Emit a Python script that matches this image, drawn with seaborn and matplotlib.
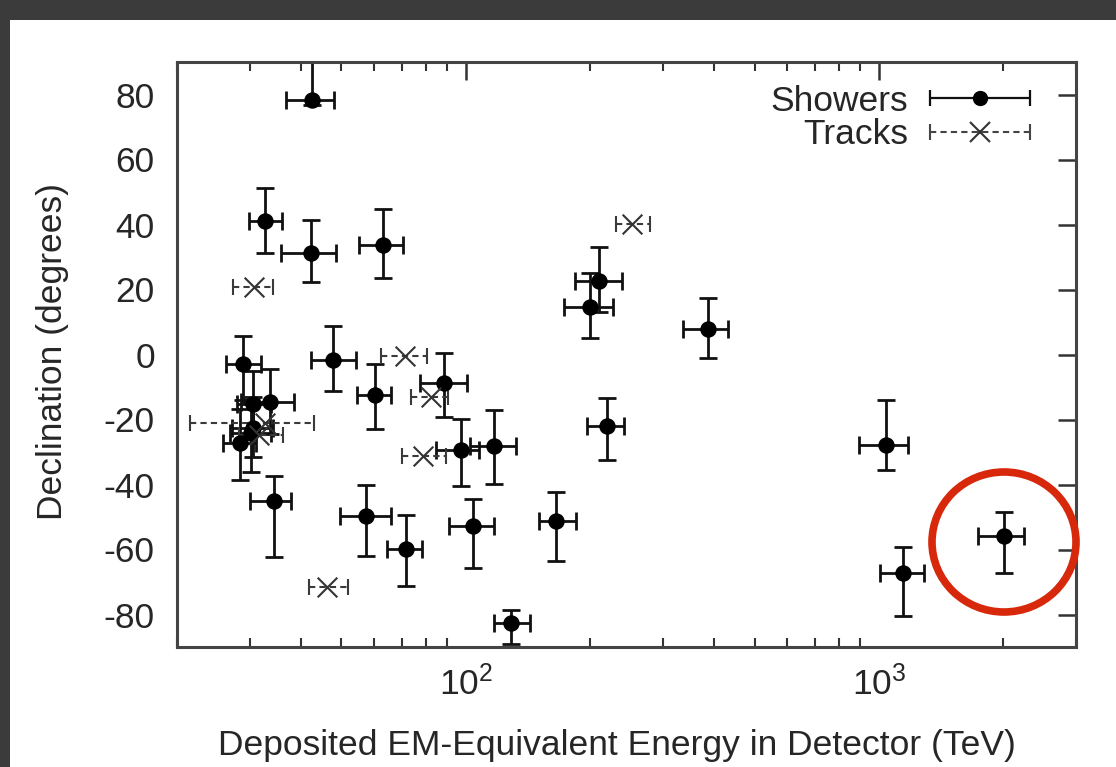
import numpy as np
import pandas as pd
import matplotlib
matplotlib.use("Agg")
import matplotlib.pyplot as plt
import seaborn as sns
from matplotlib.patches import Rectangle, Ellipse
from matplotlib.container import ErrorbarContainer
from matplotlib.legend_handler import HandlerErrorbar

# ---------------- data ----------------
shower_E     = [47.6, 117, 165, 28.4, 34.3, 63.2, 97.2, 88.4, 104, 1041, 57.5, 30.6, 200, 71.5,
                1141, 30.2, 220, 30.5, 33.5, 210, 60.2, 32.7, 129, 42.5, 385, 42.1, 2004, 28.9]
shower_E_lo  = [5.4, 14.6, 15, 2.5, 4.3, 8.0, 12.4, 10.7, 13, 144, 7.8, 3.5, 27, 7.2,
                133, 3.3, 24, 2.6, 5.0, 26, 5.6, 2.9, 12, 5.7, 49, 6.3, 262, 2.6]
shower_E_hi  = [6.5, 15, 20, 2.7, 3.5, 7.1, 10.4, 12.5, 13, 132, 8.3, 3.6, 27, 7.0,
                143, 3.5, 21, 3.2, 4.9, 29, 5.6, 3.2, 14, 5.4, 46, 6.5, 236, 3.0]
shower_dec   = [-1.8, -28.0, -51.2, -27.2, -45.1, 33.6, -29.4, -8.9, -52.8, -27.9, -49.7, -22.6, 14.5, -59.7,
                -67.2, -24.0, -22.1, -15.1, -14.5, 22.7, -12.6, 41.0, -82.7, 78.3, 7.8, 31.3, -55.8, -3.0]
shower_dec_lo = [9.3, 11.9, 12.3, 11.4, 17.3, 10.2, 11.0, 10.4, 12.8, 7.5, 12.4, 9.0, 9.5, 11.6,
                 13.3, 12.2, 10.5, 9.5, 10.0, 9.5, 10.3, 9.8, 6.4, 1.5, 8.9, 8.9, 11.3, 11.0]
shower_dec_hi = [10.7, 11.0, 9.0, 10.5, 7.7, 11.3, 9.7, 9.4, 8.2, 13.8, 9.5, 9.5, 10.5, 10.3,
                 8.0, 10.0, 8.8, 10.0, 10.0, 10.5, 9.8, 10.3, 4.1, 14.0, 9.5, 10.0, 7.2, 8.8]

track_E    = [78.7, 71.4, 32.6, 253, 31.5, 82.2, 46.1, 30.8]
track_E_lo = [8.7, 9.0, 11.1, 22, 3.3, 8.4, 4.4, 3.5]
track_E_hi = [10.8, 9.0, 10.3, 26, 4.6, 8.6, 5.7, 3.3]
track_dec  = [-31.2, -0.4, -21.2, 40.3, -24.8, -13.2, -71.5, 20.7]

y_ticks = [-80, -60, -40, -20, 0, 20, 40, 60, 80]
legend_labels = ["Showers", "Tracks"]
x_label = "Deposited EM-Equivalent Energy in Detector (TeV)"
y_label = "Declination (degrees)"

showers = pd.DataFrame({"E": shower_E, "dec": shower_dec})
tracks = pd.DataFrame({"E": track_E, "dec": track_dec})

# ---------------- style ----------------
sns.set_theme(style="white")
FONT = ["Liberation Sans", "DejaVu Sans"]
plt.rcParams["font.family"] = FONT
plt.rcParams["mathtext.fontset"] = "custom"
plt.rcParams["mathtext.rm"] = "Liberation Sans"
plt.rcParams["mathtext.it"] = "Liberation Sans:italic"
plt.rcParams["mathtext.bf"] = "Liberation Sans:bold"

FS = 25.5
TXT = "#262626"

W, H = 1116, 767
fig = plt.figure(figsize=(W / 100, H / 100), dpi=100, facecolor="#3b3b3b")
# white slide panel
fig.patches.append(Rectangle((10 / W, 0), 1 - 10 / W, 1 - 20 / H, transform=fig.transFigure,
                             facecolor="white", edgecolor="none", zorder=-10))

ax = fig.add_axes([177 / W, (H - 647) / H, (1076 - 177) / W, (647 - 62) / H])
ax.set_zorder(1)
ax.set_facecolor("white")
ax.set_xscale("log")

# error bars
eb_s = ax.errorbar(shower_E, shower_dec,
                   xerr=[shower_E_lo, shower_E_hi], yerr=[shower_dec_lo, shower_dec_hi],
                   fmt="none", ecolor="#111111", elinewidth=2.0, capsize=6.5, capthick=2.0, zorder=2)
eb_t = ax.errorbar(track_E, track_dec, xerr=[track_E_lo, track_E_hi],
                   fmt="none", ecolor="#3a3a3a", elinewidth=1.5, capsize=5.5, capthick=1.5, zorder=2)
for lc in eb_t[2]:
    lc.set_linestyle((0, (3, 2)))

# markers via seaborn
sns.scatterplot(data=showers, x="E", y="dec", ax=ax, marker="o", s=140, color="black",
                edgecolor="black", linewidth=0, zorder=3, legend=False)
sns.scatterplot(data=tracks, x="E", y="dec", ax=ax, marker="x", s=200, color="#333333",
                linewidth=1.5, zorder=3, legend=False)

ax.set_xlim(20, 3000)
ax.set_ylim(-90, 90)
ax.set_yticks(y_ticks)
ax.set_yticklabels([str(v) for v in y_ticks])
ax.set_xticks([100, 1000])
ax.set_xticklabels([r"$10^2$", r"$10^3$"])
ax.xaxis.set_minor_locator(matplotlib.ticker.LogLocator(base=10, subs=np.arange(2, 10), numticks=20))
ax.xaxis.set_minor_formatter(matplotlib.ticker.NullFormatter())

ax.tick_params(axis="both", which="major", direction="in", length=13, width=1.8,
               color="#333333", top=True, right=True, labelsize=FS, pad=16, labelcolor=TXT)
ax.tick_params(axis="x", which="major", pad=13)
ax.tick_params(axis="x", which="minor", direction="in", length=6.5, width=1.5,
               color="#333333", top=True, bottom=True)
for sp in ax.spines.values():
    sp.set_linewidth(2.2)
    sp.set_color("#444444")

ax.set_xlabel(x_label, fontsize=FS, color=TXT)
ax.set_ylabel(y_label, fontsize=FS, color=TXT)
ax.xaxis.set_label_coords((617 - 177) / 899, -(751 - 647 + 4) / 585, transform=ax.transAxes)
ax.xaxis.label.set_va("baseline")
ax.yaxis.set_label_coords(-(177 - 36) / 899, (647 - 351) / 585, transform=ax.transAxes)
ax.yaxis.label.set_va("top")

# legend proxies
h_s = ax.errorbar([np.nan], [np.nan], xerr=[[1], [1]], fmt="o", color="black", ms=10,
                  ecolor="#111111", elinewidth=1.6, capsize=6, capthick=1.6)
h_t = ax.errorbar([np.nan], [np.nan], xerr=[[1], [1]], fmt="x", color="#333333", ms=15, mew=1.5,
                  ecolor="#444444", elinewidth=1.5, capsize=6, capthick=1.5)
for lc in h_t[2]:
    lc.set_linestyle((0, (3, 2)))
leg = ax.legend([h_s, h_t], legend_labels, loc="upper right", frameon=False, markerfirst=False,
                fontsize=FS, handlelength=2.9, handletextpad=0.58, labelspacing=0.02,
                borderaxespad=0.4, borderpad=0.3,
                handler_map={ErrorbarContainer: HandlerErrorbar(xerr_size=1.42)})
for t in leg.get_texts():
    t.set_color(TXT)
leg.set_bbox_to_anchor((1 - 20 / 899, 1 + 2 / 585), transform=ax.transAxes)

# red hand-drawn circle annotation
fig.patches.append(Ellipse((1004 / W, (H - 542) / H), 144 / W, 140 / H, transform=fig.transFigure,
                           facecolor="none", edgecolor="#d8280c", linewidth=5.5, zorder=5))

fig.savefig("out.png", dpi=100, facecolor=fig.get_facecolor())
